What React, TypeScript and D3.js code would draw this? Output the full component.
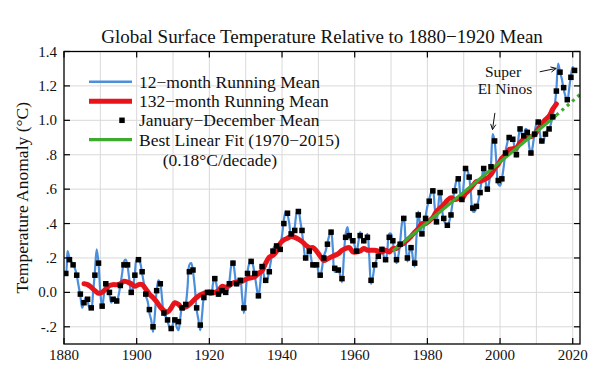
import React from 'react';
import * as d3 from 'd3';

// Global surface temperature relative to the 1880-1920 mean (°C)
const firstYear = 1880;

// January-December means, 1880..2020
const annualMean = [
  0.11, 0.19, 0.16, 0.10, -0.01, -0.06, -0.04, -0.09, 0.10, 0.17,
  -0.08, 0.05, 0.00, -0.04, -0.05, 0.04, 0.16, 0.16, 0.00, 0.10,
  0.19, 0.12, -0.01, -0.10, -0.20, 0.01, 0.05, -0.12, -0.16, -0.21,
  -0.16, -0.17, -0.09, -0.07, 0.12, 0.13, -0.09, -0.19, -0.03, 0.00,
  0.00, 0.08, -0.01, 0.01, 0.00, 0.05, 0.17, 0.05, 0.07, -0.09,
  0.11, 0.18, 0.11, -0.02, 0.15, 0.07, 0.12, 0.24, 0.27, 0.25,
  0.40, 0.46, 0.34, 0.36, 0.47, 0.36, 0.20, 0.24, 0.16, 0.16,
  0.10, 0.20, 0.28, 0.35, 0.14, 0.13, 0.08, 0.32, 0.33, 0.30,
  0.24, 0.33, 0.30, 0.32, 0.07, 0.16, 0.21, 0.25, 0.19, 0.32,
  0.30, 0.19, 0.28, 0.43, 0.20, 0.26, 0.17, 0.45, 0.34, 0.43,
  0.53, 0.59, 0.41, 0.58, 0.43, 0.39, 0.45, 0.59, 0.66, 0.54,
  0.72, 0.67, 0.49, 0.50, 0.58, 0.72, 0.60, 0.73, 0.88, 0.65,
  0.66, 0.81, 0.90, 0.89, 0.80, 0.95, 0.91, 0.93, 0.81, 0.92,
  0.99, 0.88, 0.92, 0.95, 1.02, 1.17, 1.28, 1.19, 1.12, 1.25,
  1.29,
];

// 12-month running mean, read at the start and middle of each year, 1880..2020
const runningMean12 = [
  [0.12, 0.11], [0.24, 0.20], [0.18, 0.16], [0.14, 0.10], [0.04, -0.02],
  [-0.09, -0.06], [-0.03, -0.05], [-0.09, -0.09], [0.00, 0.12], [0.25, 0.17],
  [0.00, -0.09], [-0.01, 0.05], [0.03, -0.01], [-0.06, -0.04], [-0.03, -0.06],
  [-0.02, 0.04], [0.11, 0.18], [0.19, 0.15], [0.07, -0.01], [0.03, 0.11],
  [0.19, 0.19], [0.17, 0.11], [0.05, -0.02], [-0.05, -0.12], [-0.16, -0.23],
  [-0.13, 0.01], [0.07, 0.05], [-0.04, -0.13], [-0.14, -0.17], [-0.20, -0.22],
  [-0.18, -0.15], [-0.20, -0.22], [-0.15, -0.09], [-0.10, -0.07], [0.03, 0.16],
  [0.17, 0.12], [0.03, -0.10], [-0.16, -0.22], [-0.13, -0.03], [-0.01, 0.01],
  [-0.01, -0.01], [0.05, 0.09], [0.04, -0.02], [-0.01, 0.01], [0.01, 0.00],
  [0.01, 0.06], [0.15, 0.18], [0.11, 0.04], [0.06, 0.08], [-0.02, -0.12],
  [0.00, 0.12], [0.17, 0.19], [0.16, 0.10], [0.03, -0.03], [0.05, 0.16],
  [0.10, 0.06], [0.08, 0.13], [0.19, 0.25], [0.27, 0.26], [0.24, 0.27],
  [0.33, 0.42], [0.47, 0.45], [0.40, 0.33], [0.33, 0.38], [0.46, 0.48],
  [0.42, 0.35], [0.26, 0.19], [0.22, 0.25], [0.20, 0.15], [0.16, 0.17],
  [0.12, 0.09], [0.14, 0.21], [0.24, 0.29], [0.33, 0.36], [0.25, 0.12],
  [0.12, 0.13], [0.10, 0.06], [0.20, 0.34], [0.38, 0.32], [0.30, 0.31],
  [0.27, 0.23], [0.29, 0.35], [0.31, 0.29], [0.31, 0.34], [0.21, 0.05],
  [0.09, 0.16], [0.19, 0.22], [0.23, 0.26], [0.21, 0.18], [0.25, 0.34],
  [0.34, 0.29], [0.23, 0.17], [0.21, 0.29], [0.40, 0.44], [0.30, 0.18],
  [0.23, 0.27], [0.20, 0.15], [0.32, 0.47], [0.39, 0.33], [0.37, 0.44],
  [0.50, 0.54], [0.58, 0.60], [0.50, 0.40], [0.50, 0.59], [0.49, 0.42],
  [0.40, 0.38], [0.41, 0.46], [0.53, 0.60], [0.65, 0.67], [0.58, 0.53],
  [0.63, 0.73], [0.71, 0.67], [0.57, 0.47], [0.47, 0.49], [0.53, 0.59],
  [0.66, 0.73], [0.65, 0.59], [0.64, 0.74], [0.92, 0.88], [0.75, 0.63],
  [0.62, 0.66], [0.73, 0.82], [0.87, 0.91], [0.90, 0.89], [0.84, 0.79],
  [0.88, 0.96], [0.92, 0.90], [0.95, 0.94], [0.85, 0.80], [0.85, 0.93],
  [0.98, 1.00], [0.92, 0.87], [0.88, 0.93], [0.94, 0.95], [0.98, 1.03],
  [1.08, 1.18], [1.33, 1.28], [1.24, 1.18], [1.14, 1.11], [1.18, 1.26],
  [1.31, 1.29],
];

// 132-month running mean, centred on the middle of each year, 1885..2015
const runningMean132Start = 1885;
const runningMean132 = [
  0.05, 0.045, 0.03, 0.01, -0.005, 0.00, 0.02, 0.04, 0.045, 0.045,
  0.05, 0.065, 0.06, 0.05, 0.035, 0.045, 0.045, 0.02, -0.01, -0.03,
  -0.055, -0.085, -0.105, -0.115, -0.09, -0.06, -0.07, -0.09, -0.085, -0.07,
  -0.05, -0.03, -0.015, -0.005, 0.00, -0.005, 0.00, 0.01, 0.035, 0.03,
  0.04, 0.055, 0.06, 0.06, 0.07, 0.08, 0.085, 0.09, 0.11, 0.125,
  0.17, 0.205, 0.215, 0.24, 0.285, 0.305, 0.315, 0.325, 0.32, 0.31,
  0.295, 0.275, 0.26, 0.26, 0.24, 0.21, 0.185, 0.195, 0.205, 0.215,
  0.225, 0.245, 0.255, 0.26, 0.235, 0.235, 0.24, 0.255, 0.245, 0.245,
  0.245, 0.24, 0.235, 0.245, 0.235, 0.255, 0.255, 0.275, 0.285, 0.305,
  0.325, 0.35, 0.37, 0.40, 0.40, 0.415, 0.435, 0.47, 0.49, 0.51,
  0.535, 0.55, 0.54, 0.545, 0.545, 0.575, 0.595, 0.62, 0.645, 0.645,
  0.655, 0.665, 0.685, 0.72, 0.745, 0.78, 0.80, 0.83, 0.835, 0.84,
  0.87, 0.89, 0.90, 0.905, 0.915, 0.95, 0.98, 1.005, 1.025, 1.065,
  1.095,
];

// best linear fit 1970-2015 and its extension
const fitYears = [1970.5, 2015.5];
const fitValues = [0.24, 1.03];
const fitExtensionYears = [2015.5, 2022];
const fitExtensionValues = [1.03, 1.15];

const xTicks = [1880, 1900, 1920, 1940, 1960, 1980, 2000, 2020];
const xGrid = [1890, 1900, 1910, 1920, 1930, 1940, 1950, 1960, 1970, 1980, 1990, 2000, 2010, 2020];
const yTicks = [-0.2, 0, 0.2, 0.4, 0.6, 0.8, 1.0, 1.2, 1.4];
const yTickLabels = ['-.2', '0.0', '.2', '.4', '.6', '.8', '1.0', '1.2', '1.4'];

const legendItems = [
  '12\u2212month Running Mean',
  '132\u2212month Running Mean',
  'January\u2212December Mean',
  'Best Linear Fit (1970\u22122015)',
];

const W = 600;
const H = 370;
const left = 64, right = 580, top = 51.5, bottom = 344;
const serif = '"Liberation Serif", "Times New Roman", Times, serif';
const BLUE = '#4b8fdc';
const RED = '#e8141c';
const GREEN = '#3dab2e';

const arrowHead = (x1: number, y1: number, x2: number, y2: number, len = 6) => {
  const a = Math.atan2(y2 - y1, x2 - x1);
  const p1 = [x2 - len * Math.cos(a - 0.45), y2 - len * Math.sin(a - 0.45)];
  const p2 = [x2 - len * Math.cos(a + 0.45), y2 - len * Math.sin(a + 0.45)];
  return `M${p1[0]},${p1[1]}L${x2},${y2}L${p2[0]},${p2[1]}`;
};

export default function App() {
  const x = d3.scaleLinear().domain([1880, 2022]).range([left, right]);
  const y = d3.scaleLinear().domain([-0.3, 1.4]).range([bottom, top]);

  const bluePts: [number, number][] = [];
  runningMean12.forEach((p, i) => {
    bluePts.push([firstYear + i, p[0]]);
    bluePts.push([firstYear + i + 0.5, p[1]]);
  });
  const redPts: [number, number][] = runningMean132.map((v, i) => [runningMean132Start + i + 0.5, v]);
  const annPts: [number, number][] = annualMean.map((v, i) => [firstYear + i + 0.5, v]);
  const fitPts: [number, number][] = fitYears.map((t, i) => [t, fitValues[i]]);
  const extPts: [number, number][] = fitExtensionYears.map((t, i) => [t, fitExtensionValues[i]]);

  const line = d3.line<[number, number]>().x(d => x(d[0])).y(d => y(d[1]));
  const smooth = d3.line<[number, number]>().x(d => x(d[0])).y(d => y(d[1])).curve(d3.curveCatmullRom.alpha(0.5));

  const legY = [81.8, 101.2, 120.3, 139.7];

  return (
    <svg width={W} height={H} style={{ position: 'absolute', left: 0, top: 0, background: '#fff' }}
      fontFamily={serif}>
      <defs>
        <clipPath id="plot">
          <rect x={left} y={top} width={right - left} height={bottom - top} />
        </clipPath>
      </defs>
      <rect x={0} y={0} width={W} height={H} fill="#fff" />

      {/* grid */}
      {xGrid.map(t => (
        <line key={'gx' + t} x1={x(t)} x2={x(t)} y1={top} y2={bottom} stroke="#d9d9d9" strokeWidth={1} />
      ))}
      {yTicks.map(t => (
        <line key={'gy' + t} x1={left} x2={right} y1={y(t)} y2={y(t)} stroke="#d9d9d9" strokeWidth={1} />
      ))}

      <g clipPath="url(#plot)">
        <path d={smooth(bluePts) || ''} fill="none" stroke={BLUE} strokeWidth={2.2} />
        <path d={smooth(redPts) || ''} fill="none" stroke={RED} strokeWidth={5} strokeLinecap="round" />
        <path d={line(fitPts) || ''} fill="none" stroke={GREEN} strokeWidth={3.2} />
        <path d={line(extPts) || ''} fill="none" stroke={GREEN} strokeWidth={3.2} strokeDasharray="3,4" />
        {annPts.map(d => (
          <rect key={'a' + d[0]} x={x(d[0]) - 2.75} y={y(d[1]) - 2.75} width={5.5} height={5.5} fill="#000" />
        ))}
      </g>

      {/* frame and ticks */}
      <rect x={left} y={top} width={right - left} height={bottom - top} fill="none" stroke="#000" strokeWidth={1.3} />
      {xTicks.map(t => (
        <g key={'xt' + t}>
          <line x1={x(t)} x2={x(t)} y1={bottom} y2={bottom - 6} stroke="#000" strokeWidth={1.2} />
          <line x1={x(t)} x2={x(t)} y1={top} y2={top + 6} stroke="#000" strokeWidth={1.2} />
          <text x={x(t)} y={360} textAnchor="middle" fontSize={15} fill="#111">{t}</text>
        </g>
      ))}
      {yTicks.map((t, i) => (
        <g key={'yt' + t}>
          <line x1={left} x2={left + 6} y1={y(t)} y2={y(t)} stroke="#000" strokeWidth={1.2} />
          <line x1={right} x2={right - 6} y1={y(t)} y2={y(t)} stroke="#000" strokeWidth={1.2} />
          <text x={57} y={y(t) + 5} textAnchor="end" fontSize={15} fill="#111">{yTickLabels[i]}</text>
        </g>
      ))}

      <text x={(left + right) / 2} y={43} textAnchor="middle" fontSize={19} fill="#111">
        Global Surface Temperature Relative to 1880{'\u2212'}1920 Mean
      </text>
      <text transform={`translate(22,${(top + bottom) / 2}) rotate(-90)`} textAnchor="middle"
        dominantBaseline="central" fontSize={17.5} fill="#111">
        Temperature Anomaly ({'\u00b0'}C)
      </text>

      {/* legend */}
      <line x1={89} x2={132} y1={legY[0]} y2={legY[0]} stroke={BLUE} strokeWidth={2.6} />
      <line x1={89} x2={132} y1={legY[1]} y2={legY[1]} stroke={RED} strokeWidth={5} />
      <rect x={119.25} y={legY[2] - 2.75} width={5.5} height={5.5} fill="#000" />
      <line x1={89} x2={132} y1={legY[3]} y2={legY[3]} stroke={GREEN} strokeWidth={3.2} />
      {legendItems.map((s, i) => (
        <text key={s} x={139} y={legY[i] + 6} fontSize={17.5} fill="#111">{s}</text>
      ))}
      <text x={220} y={165.5} textAnchor="middle" fontSize={17.5} fill="#111">(0.18{'\u00b0'}C/decade)</text>

      {/* annotations */}
      <text x={503} y={76.5} textAnchor="middle" fontSize={15.5} fill="#111">Super</text>
      <text x={505} y={94} textAnchor="middle" fontSize={15.5} fill="#111">El Ninos</text>
      <line x1={539.7} y1={71.8} x2={556.2} y2={68.4} stroke="#111" strokeWidth={1} />
      <path d={arrowHead(539.7, 71.8, 556.2, 68.4)} fill="none" stroke="#111" strokeWidth={1} />
      <line x1={494.9} y1={112.9} x2={492.5} y2={129.6} stroke="#111" strokeWidth={1} />
      <path d={arrowHead(494.9, 112.9, 492.5, 129.6)} fill="none" stroke="#111" strokeWidth={1} />
    </svg>
  );
}
